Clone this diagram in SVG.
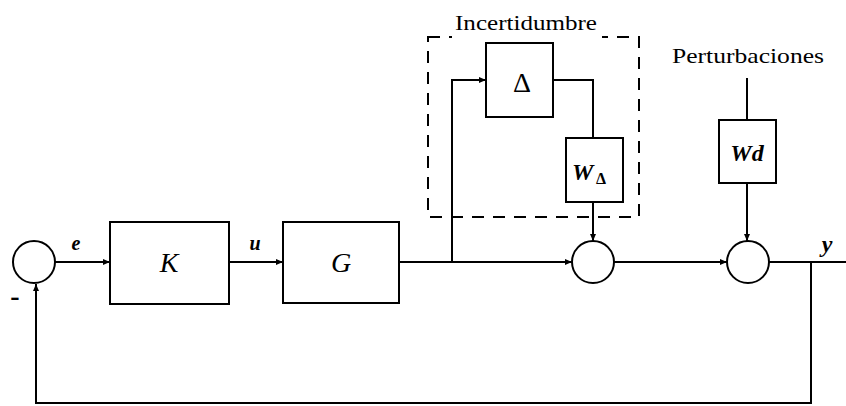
<svg xmlns="http://www.w3.org/2000/svg" width="846" height="406" viewBox="0 0 846 406">
<style>
.b{fill:#fff;stroke:#000;stroke-width:2}
.l{fill:none;stroke:#000;stroke-width:2}
.d{fill:none;stroke:#000;stroke-width:2;stroke-dasharray:12,9}
text{fill:#000}
.i{font-style:italic}
</style>
<defs>
<marker id="a" markerWidth="8" markerHeight="8" refX="7" refY="4" orient="auto" markerUnits="userSpaceOnUse">
<path d="M0,1 L7,4 L0,7 Z" fill="#000"/>
</marker>
</defs>
<g id="connectors">
<line class="l" x1="55" y1="262" x2="110" y2="262" marker-end="url(#a)"/>
<line class="l" x1="229" y1="262" x2="283" y2="262" marker-end="url(#a)"/>
<line class="l" x1="399" y1="262" x2="572" y2="262" marker-end="url(#a)"/>
<polyline class="l" points="452,262 452,80 486,80" marker-end="url(#a)"/>
<polyline class="l" points="553,80 593,80 593,138"/>
<line class="l" x1="593" y1="202" x2="593" y2="241" marker-end="url(#a)"/>
<line class="l" x1="614" y1="262" x2="727" y2="262" marker-end="url(#a)"/>
<line class="l" x1="747" y1="78" x2="747" y2="120"/>
<line class="l" x1="747" y1="183" x2="747" y2="241" marker-end="url(#a)"/>
<line class="l" x1="769" y1="262" x2="846" y2="262"/>
<polyline class="l" points="811,262 811,403 36,403 36,284" marker-end="url(#a)"/>
</g>
<g font-family="Liberation Serif, serif">
<g id="uncertainty">
<rect class="d" x="428" y="37" width="211" height="180"/>
<rect x="452" y="30" width="150" height="12" fill="#fff"/>
<text x="455" y="30" font-size="21" textLength="142" lengthAdjust="spacingAndGlyphs">Incertidumbre</text>
</g>
<g id="sum1"><circle class="b" cx="34" cy="262" r="21"/></g>
<g id="K"><rect class="b" x="110" y="222" width="119" height="82"/><text class="i" x="169" y="272" font-size="28" text-anchor="middle">K</text></g>
<g id="G"><rect class="b" x="283" y="222" width="116" height="81"/><text class="i" x="341" y="272" font-size="28" text-anchor="middle">G</text></g>
<g id="Delta"><rect class="b" x="486" y="43" width="67" height="74"/><text x="522" y="92" font-size="28" text-anchor="middle">Δ</text></g>
<g id="WDelta"><rect class="b" x="566" y="138" width="57" height="64"/><text class="i" x="572" y="180" font-size="24" font-weight="bold">W</text><text x="596" y="184" font-size="16" font-weight="bold">Δ</text></g>
<g id="sum2"><circle class="b" cx="593" cy="262" r="21"/></g>
<g id="Wd"><rect class="b" x="719" y="120" width="57" height="63"/><text class="i" x="747" y="161" font-size="24" font-weight="bold" text-anchor="middle">Wd</text></g>
<g id="sum3"><circle class="b" cx="748" cy="262" r="21"/></g>
<text x="672" y="63" font-size="21" textLength="152" lengthAdjust="spacingAndGlyphs">Perturbaciones</text>
<text class="i" x="76" y="250" font-size="20" font-weight="bold" text-anchor="middle">e</text>
<text class="i" x="255" y="250" font-size="20" font-weight="bold" text-anchor="middle">u</text>
<text class="i" x="827" y="252" font-size="24" font-weight="bold" text-anchor="middle">y</text>
<text x="15" y="305" font-size="28" font-weight="bold" text-anchor="middle">-</text>
</g>
</svg>
